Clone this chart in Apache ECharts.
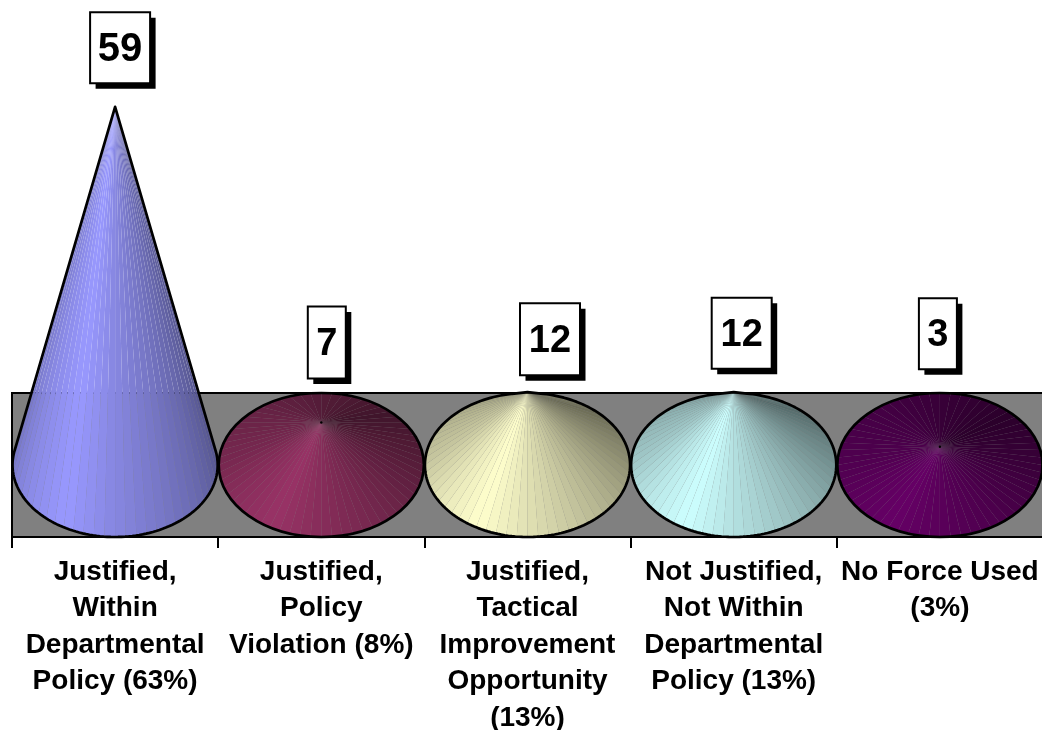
<!DOCTYPE html>
<html>
<head>
<meta charset="utf-8">
<style>html,body{margin:0;padding:0;background:#fff}#chart{width:1042px;height:730px}</style>
<script src="https://cdn.jsdelivr.net/npm/echarts@6/dist/echarts.min.js"></script>
</head>
<body>
<div id="chart"></div>
<script>
// Force review outcomes
const categories = [
  'Justified,\nWithin\nDepartmental\nPolicy (63%)',
  'Justified,\nPolicy\nViolation (8%)',
  'Justified,\nTactical\nImprovement\nOpportunity\n(13%)',
  'Not Justified,\nNot Within\nDepartmental\nPolicy (13%)',
  'No Force Used\n(3%)'
];
const counts = [59, 7, 12, 12, 3];
const coneColors = [[153,153,255],[153,51,102],[255,255,204],[204,255,255],[102,0,102]];

// Floor depth in axis units: cone bases are ellipses this tall either side of zero
const FLOOR_DEPTH = 11.86;
const AXIS_MAX = 76.6;
const FACETS = 60;

// Value box placement relative to each cone's apex: [dx, dy, width, height, fontSize]
const boxLayout = [
  [5, -59, 60, 71, 40],
  [5.5, -80, 38, 72, 38],
  [22.5, -53, 60, 72, 38],
  [8, -59, 60, 71, 38],
  [-2, -113, 38, 71, 38]
];

// Facet brightness around the base, degrees clockwise from the right-hand side
const shadeStops = [[0,.56],[45,.72],[90,.88],[120,1],[150,.9],[180,.78],[225,.68],[270,.55],[315,.42],[360,.56]];

function shadeAt(deg) {
  const d = ((deg % 360) + 360) % 360;
  for (let i = 1; i < shadeStops.length; i++) {
    const a = shadeStops[i - 1], b = shadeStops[i];
    if (d <= b[0]) return a[1] + (b[1] - a[1]) * (d - a[0]) / (b[0] - a[0]);
  }
  return 1;
}

function renderWall(params, api) {
  const cs = params.coordSys;
  const top = api.coord([0, FLOOR_DEPTH])[1];
  const bottom = api.coord([0, -FLOOR_DEPTH])[1];
  return {
    type: 'rect', silent: true,
    shape: { x: cs.x, y: top, width: cs.width + 4, height: bottom - top },
    style: { fill: '#808080', stroke: '#000', lineWidth: 2 }
  };
}

function renderCone(params, api) {
  const idx = api.value(0);
  const apex = api.coord([idx, api.value(1)]);
  const base = api.coord([idx, 0]);
  const a = api.size([1, 0])[0] / 2 - 0.5;
  const b = base[1] - api.coord([idx, FLOOR_DEPTH])[1];
  const h = base[1] - apex[1];
  const rgb = coneColors[idx];
  const pt = deg => {
    const r = deg * Math.PI / 180;
    return [base[0] + a * Math.cos(r), base[1] + b * Math.sin(r)];
  };

  // A cone taller than its base hides the rear facets behind the tangent lines
  const tall = h > b;
  const tangent = tall ? Math.asin(b / h) * 180 / Math.PI : 90;
  const from = tall ? -tangent : 0;
  const to = tall ? 180 + tangent : 360;
  const step = 360 / FACETS;
  const children = [];

  const stops = [from];
  for (let k = Math.ceil(from / step + 1e-6); k * step < to - 1e-6; k++) stops.push(k * step);
  stops.push(to);

  // Unstroked facets: the antialiased joins leave faint seams showing what lies behind
  for (let i = 0; i + 1 < stops.length; i++) {
    const s = shadeAt((stops[i] + stops[i + 1]) / 2);
    children.push({
      type: 'polygon', silent: true,
      shape: { points: [apex, pt(stops[i]), pt(stops[i + 1])] },
      style: { fill: `rgb(${rgb.map(c => Math.round(c * s)).join(',')})`, stroke: null, lineWidth: 0 }
    });
  }

  // Outline: silhouette of the cone
  if (tall) {
    const arc = [apex];
    for (let d = from; d <= to + 1e-6; d += 2) arc.push(pt(d));
    arc.push(pt(to));
    children.push({
      type: 'polygon', silent: true, shape: { points: arc },
      style: { fill: 'none', stroke: '#000', lineWidth: 2.7, lineJoin: 'round' }
    });
  } else {
    children.push({
      type: 'ellipse', silent: true,
      shape: { cx: base[0], cy: base[1], rx: a, ry: b },
      style: { fill: 'none', stroke: '#000', lineWidth: 2.7 }
    });
    children.push({
      type: 'circle', silent: true,
      shape: { cx: apex[0], cy: apex[1], r: 1.2 },
      style: { fill: '#000' }
    });
  }

  // Value box with a solid drop shadow
  const [dx, dy, w, bh, fs] = boxLayout[idx];
  const cx = apex[0] + dx, cy = apex[1] + dy;
  children.push({
    type: 'rect', silent: true,
    shape: { x: cx - w / 2 + 5.5, y: cy - bh / 2 + 5.5, width: w, height: bh },
    style: { fill: '#000' }
  });
  children.push({
    type: 'rect', silent: true,
    shape: { x: cx - w / 2, y: cy - bh / 2, width: w, height: bh },
    style: { fill: '#fff', stroke: '#000', lineWidth: 2 }
  });
  children.push({
    type: 'text', silent: true,
    style: {
      x: cx, y: cy + 2, text: String(api.value(1)),
      align: 'center', verticalAlign: 'middle',
      font: `bold ${fs}px "Liberation Sans", Arial, sans-serif`, fill: '#000'
    }
  });
  return { type: 'group', children };
}

const chart = echarts.init(document.getElementById('chart'), null, { renderer: 'canvas' });
chart.setOption({
  animation: false,
  grid: { left: 12, right: -1, top: 0, bottom: 193, outerBoundsMode: 'none' },
  xAxis: {
    type: 'category', data: categories, boundaryGap: true, position: 'bottom',
    axisLine: { onZero: false, lineStyle: { color: '#000', width: 2 } },
    axisTick: { show: true, length: 11, lineStyle: { color: '#000', width: 2 } },
    axisLabel: {
      interval: 0, color: '#000', margin: 17, lineHeight: 36.5,
      fontFamily: '"Liberation Sans", Arial, sans-serif', fontWeight: 'bold', fontSize: 28
    }
  },
  yAxis: { type: 'value', min: -FLOOR_DEPTH, max: AXIS_MAX, show: false },
  series: [
    { type: 'custom', name: 'floor', data: [[0, 0]], renderItem: renderWall, silent: true, clip: false, z: 1 },
    {
      type: 'custom', name: 'Force review', silent: true, clip: false, z: 3,
      data: counts.map((v, i) => [i, v]),
      encode: { x: 0, y: 1 },
      renderItem: renderCone
    }
  ]
});
</script>
</body>
</html>
